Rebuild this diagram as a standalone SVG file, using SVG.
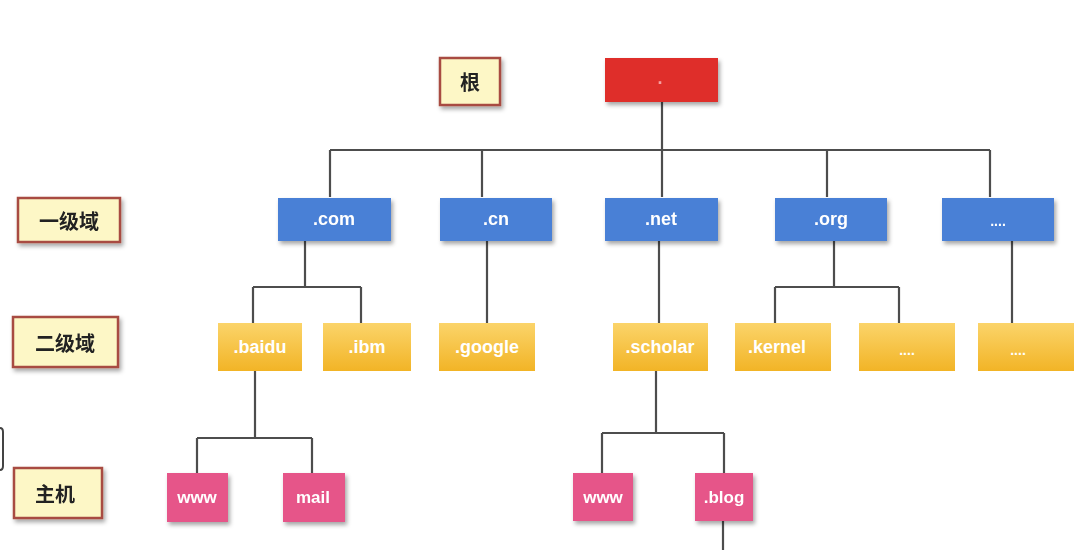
<svg xmlns="http://www.w3.org/2000/svg" width="1075" height="550" viewBox="0 0 1075 550">
<style>
.lbl rect{fill:#fdf7c6;stroke:#a84c42;stroke-width:2.5}
.lbl text{font-family:"Noto Sans CJK SC","Liberation Sans",sans-serif;font-weight:bold;font-size:20px;fill:#222;text-anchor:middle;dominant-baseline:central}
.n text{font-family:"Liberation Sans","DejaVu Sans",sans-serif;font-weight:bold;font-size:18px;fill:#fff;text-anchor:middle;dominant-baseline:central}
.red rect{fill:#df2f2a}
.blue rect{fill:#4a80d6}
.yel rect{fill:url(#yg)}
.pink rect{fill:#e65489}
.pink text{font-size:17px}
#edges path{fill:none;stroke:#4d4d4d;stroke-width:2.2}
</style>
<defs>
<linearGradient id="yg" x1="0" y1="0" x2="0" y2="1">
<stop offset="0" stop-color="#fbd46a"/>
<stop offset="1" stop-color="#f2b426"/>
</linearGradient>
<filter id="sh" x="-20%" y="-20%" width="150%" height="160%">
<feDropShadow dx="2" dy="3" stdDeviation="2" flood-color="#000" flood-opacity="0.35"/>
</filter>
</defs>
<rect width="1075" height="550" fill="#fff"/>
<g id="edges">
<path d="M662 102V150M330 150H990M330 150V197M482 150V197M662 150V197M827 150V197M990 150V197"/>
<path d="M305 241V287M253 287H361M253 287V323M361 287V323"/>
<path d="M487 241V323"/>
<path d="M659 241V323"/>
<path d="M834 241V287M775 287H899M775 287V323M899 287V323"/>
<path d="M1012 241V323"/>
<path d="M255 371V438M197 438H312M197 438V473M312 438V473"/>
<path d="M656 371V433M602 433H724M602 433V473M724 433V473"/>
<path d="M723 521V550"/>
</g>
<path d="M0 428Q3 428 3 432V466Q3 470 0 470" fill="none" stroke="#444" stroke-width="2"/>
<g id="label-root" class="lbl" filter="url(#sh)"><rect x="440" y="58" width="60" height="47"/><text x="470" y="81">根</text></g>
<g id="label-l1" class="lbl" filter="url(#sh)"><rect x="18" y="198" width="102" height="44"/><text x="69" y="220">一级域</text></g>
<g id="label-l2" class="lbl" filter="url(#sh)"><rect x="13" y="317" width="105" height="50"/><text x="65" y="342">二级域</text></g>
<g id="label-host" class="lbl" filter="url(#sh)"><rect x="14" y="468" width="88" height="50"/><text x="55" y="493">主机</text></g>
<g id="root" class="n red" filter="url(#sh)"><rect x="605" y="58" width="113" height="44"/><text x="660" y="78" style="fill:#f5a0a0">.</text></g>
<g id="com" class="n blue" filter="url(#sh)"><rect x="278" y="198" width="113" height="43"/><text x="334" y="219">.com</text></g>
<g id="cn" class="n blue" filter="url(#sh)"><rect x="440" y="198" width="112" height="43"/><text x="496" y="219">.cn</text></g>
<g id="net" class="n blue" filter="url(#sh)"><rect x="605" y="198" width="113" height="43"/><text x="661" y="219">.net</text></g>
<g id="org" class="n blue" filter="url(#sh)"><rect x="775" y="198" width="112" height="43"/><text x="831" y="219">.org</text></g>
<g id="tld-more" class="n blue" filter="url(#sh)"><rect x="942" y="198" width="112" height="43"/><text x="998" y="221" style="font-size:14px">....</text></g>
<g id="baidu" class="n yel"><rect x="218" y="323" width="84" height="48"/><text x="260" y="347">.baidu</text></g>
<g id="ibm" class="n yel"><rect x="323" y="323" width="88" height="48"/><text x="367" y="347">.ibm</text></g>
<g id="google" class="n yel"><rect x="439" y="323" width="96" height="48"/><text x="487" y="347">.google</text></g>
<g id="scholar" class="n yel"><rect x="613" y="323" width="95" height="48"/><text x="660" y="347">.scholar</text></g>
<g id="kernel" class="n yel"><rect x="735" y="323" width="96" height="48"/><text x="777" y="347">.kernel</text></g>
<g id="sld-more1" class="n yel"><rect x="859" y="323" width="96" height="48"/><text x="907" y="350" style="font-size:14px">....</text></g>
<g id="sld-more2" class="n yel"><rect x="978" y="323" width="96" height="48"/><text x="1018" y="350" style="font-size:14px">....</text></g>
<g id="www1" class="n pink" filter="url(#sh)"><rect x="167" y="473" width="61" height="49"/><text x="197" y="497">www</text></g>
<g id="mail" class="n pink" filter="url(#sh)"><rect x="283" y="473" width="62" height="49"/><text x="313" y="497">mail</text></g>
<g id="www2" class="n pink" filter="url(#sh)"><rect x="573" y="473" width="60" height="48"/><text x="603" y="497">www</text></g>
<g id="blog" class="n pink" filter="url(#sh)"><rect x="695" y="473" width="58" height="48"/><text x="724" y="497">.blog</text></g>
</svg>
